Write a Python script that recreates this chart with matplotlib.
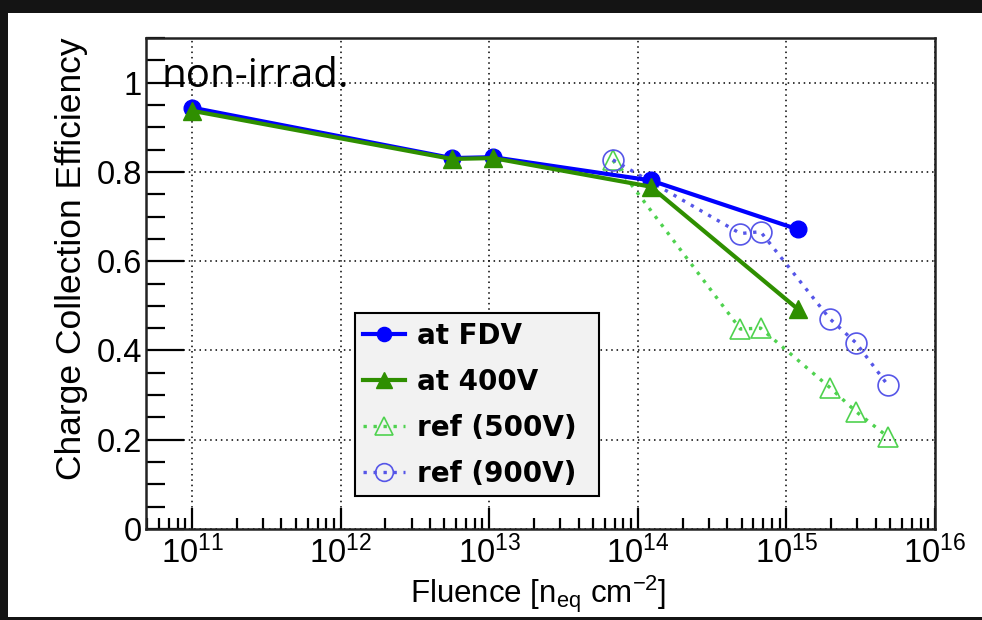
import numpy as np
import matplotlib
matplotlib.use('Agg')
import matplotlib.pyplot as plt
from matplotlib.patches import Rectangle
from matplotlib.ticker import LogLocator, MultipleLocator, FuncFormatter, NullFormatter

plt.rcParams['font.family'] = ['Liberation Sans', 'DejaVu Sans']
plt.rcParams['mathtext.default'] = 'regular'

# measured points
fdv_x = [1e11, 5.6e12, 1.06e13, 1.22e14, 1.2e15]
fdv_y = [0.944, 0.831, 0.833, 0.781, 0.671]
v400_x = [1e11, 5.6e12, 1.06e13, 1.22e14, 1.2e15]
v400_y = [0.937, 0.829, 0.831, 0.767, 0.492]
# reference points
ref500_x = [6.8e13, 4.9e14, 6.7e14, 1.96e15, 2.94e15, 4.8e15]
ref500_y = [0.826, 0.448, 0.450, 0.317, 0.263, 0.207]
ref900_x = [6.8e13, 4.9e14, 6.7e14, 1.96e15, 2.94e15, 4.8e15]
ref900_y = [0.827, 0.662, 0.666, 0.471, 0.417, 0.323]

labels = ['at FDV', 'at 400V', 'ref (500V)', 'ref (900V)']

fig = plt.figure(figsize=(9.82, 6.2), dpi=100, facecolor='#141414')
# white canvas inside the dark frame
fig.patches.append(Rectangle((8/982, 3/620), 1 - 8/982, 604/620,
                             transform=fig.transFigure, facecolor='white',
                             edgecolor='none', zorder=-5))
ax = fig.add_axes([146/982, 91/620, 789/982, 491/620])

ax.plot(ref500_x, ref500_y, color='#4fd24f', ls=(0, (1, 2)), lw=2.4,
        marker='^', ms=15, mfc='none', mec='#4fd24f', mew=1.2, label=labels[2], zorder=3)
ax.plot(ref900_x, ref900_y, color='#5656e8', ls=(0, (1, 2)), lw=2.4,
        marker='o', ms=15, mfc='none', mec='#5656e8', mew=1.2, label=labels[3], zorder=3)
ax.plot(fdv_x, fdv_y, color='#0000ff', lw=3, marker='o', ms=12,
        label=labels[0], zorder=4)
ax.plot(v400_x, v400_y, color='#2f8f00', lw=3, marker='^', ms=13,
        label=labels[1], zorder=5)

ax.set_xscale('log')
ax.set_xlim(4.9e10, 1e16)
ax.set_ylim(0, 1.1)

ax.xaxis.set_major_locator(LogLocator(base=10, numticks=20))
ax.xaxis.set_minor_locator(LogLocator(base=10, subs=np.arange(2, 10), numticks=20))
ax.xaxis.set_minor_formatter(NullFormatter())
ax.xaxis.set_major_formatter(FuncFormatter(lambda v, p: r'$10^{%d}$' % round(np.log10(v))))
ax.yaxis.set_major_locator(MultipleLocator(0.2))
ax.yaxis.set_minor_locator(MultipleLocator(0.05))
ax.yaxis.set_major_formatter(FuncFormatter(lambda v, p: '%g' % round(v, 2)))

ax.tick_params(axis='both', which='both', direction='in', top=False, right=False,
               colors='black', width=1.6)
ax.tick_params(axis='y', which='major', length=27, pad=3, labelsize=23.5)
ax.tick_params(axis='y', which='minor', length=14)
ax.tick_params(axis='x', which='major', length=15, pad=5, labelsize=23.5)
ax.tick_params(axis='x', which='minor', length=8)

ax.grid(True, which='major', color='black', ls=(0, (1, 2.5)), lw=1.1)
for s in ax.spines.values():
    s.set_linewidth(1.8)
    s.set_color('#222222')

ax.text(0.02, 0.900, 'non-irrad.', transform=ax.transAxes, fontsize=29,
        family=['Open Sans', 'DejaVu Sans'], va='baseline', ha='left', zorder=6)

fig.text(72/982, (620-259)/620, 'Charge Collection Efficiency', rotation=90,
         ha='center', va='center', fontsize=25.5)
fig.text(538/982, 17/620, r'Fluence [n$_{eq}$ cm$^{-2}$]', ha='center',
         va='baseline', fontsize=22.5)

handles, labs = ax.get_legend_handles_labels()
order = [labs.index(l) for l in labels]
leg = ax.legend([handles[i] for i in order], [labs[i] for i in order],
                loc='lower left', bbox_to_anchor=(0.265, 0.067, 0.309, 0.377),
                mode='expand', prop={'family': 'DejaVu Sans', 'weight': 'bold', 'size': 20},
                fancybox=False, framealpha=1, facecolor='#f2f2f2',
                edgecolor='black', borderpad=0.3, labelspacing=0.65,
                handlelength=1.5, handletextpad=0.43, markerscale=0.85,
                borderaxespad=0)
leg.get_frame().set_linewidth(1.5)
leg.set_zorder(10)

fig.savefig('out.png', dpi=100, facecolor=fig.get_facecolor())
